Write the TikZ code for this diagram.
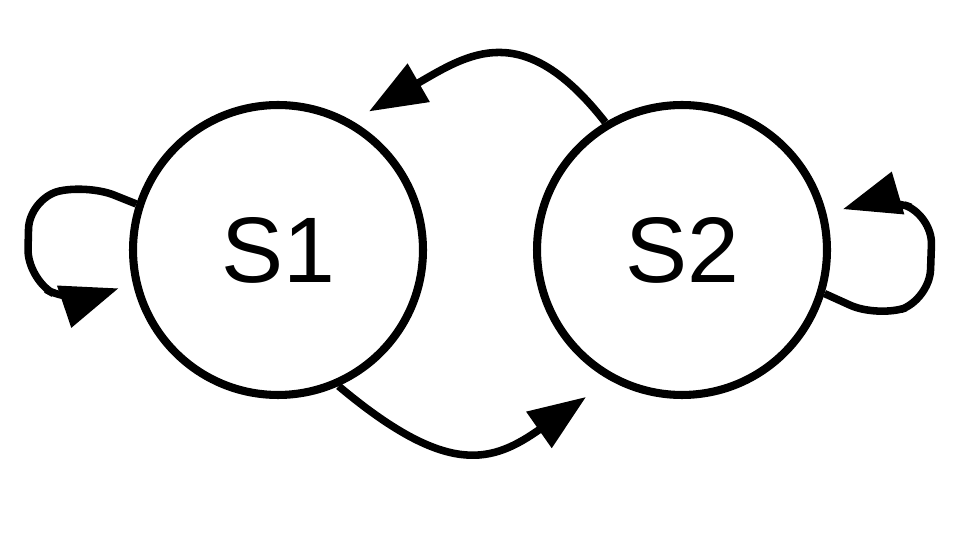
\documentclass[tikz,border=0pt]{standalone}
\usepackage{fontspec}
\setmainfont{Liberation Sans}
\usetikzlibrary{arrows.meta}

\tikzset{
  state/.style={circle, draw, line width=4.6pt, minimum size=5.8cm, inner sep=0pt,
    font=\fontsize{53}{54}\selectfont},
  trans/.style={line width=4.3pt, -{Triangle[length=1.15cm,width=0.85cm]}},
}

\begin{document}
\begin{tikzpicture}[%
      x=0.02cm, y=-0.02cm,
      ]
      \useasboundingbox (0,0) rectangle (960,540);

      \node[state] (s1) at (278,250) {S1};
      \node[state] (s2) at (682,250) {S2};

      \draw[trans, shorten >=0.38cm] (s2.121) to[out=128, in=30, looseness=1.35] (s1.60);
      \draw[trans, shorten >=0.58cm] (s1.294) to[out=-40, in=-145, looseness=1.35] (s2.241);

      \draw[trans, rounded corners=0.6cm, shorten >=0.3cm]
        (s1.162) -- ++(-50,-20) -- ++(-57,15) -- ++(-2,80) -- ++(45,25) -- (s1.193);
      \draw[trans, rounded corners=0.6cm, shorten >=0.34cm]
        (s2.-17) -- ++(53,24) -- ++(52,-18) -- ++(3,-85) -- ++(-50,-17) -- (s2.14);
\end{tikzpicture}
\end{document}
